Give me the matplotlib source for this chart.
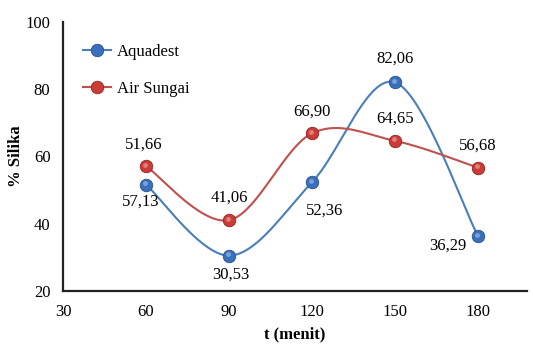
import numpy as np
import matplotlib
matplotlib.use("Agg")
import matplotlib.pyplot as plt

plt.rcParams['font.family'] = ['Liberation Serif', 'DejaVu Serif']

# waktu pengambilan sampel (menit) dan kadar silika (%)
waktu = [60, 90, 120, 150, 180]
aquadest = [51.66, 30.53, 52.36, 82.06, 36.29]
air_sungai = [57.13, 41.06, 66.90, 64.65, 56.68]

# label nilai seperti tertera di grafik
label_aquadest = ['57,13', '30,53', '52,36', '82,06', '36,29']
label_sungai = ['51,66', '41,06', '66,90', '64,65', '56,68']

# geser label (piksel)
geser_aquadest = [(-5, -17), (2, -19), (13, -28), (0, 24), (-30, -9)]
geser_sungai = [(-2, 22), (0, 23), (0, 22), (0, 22), (0, 22)]


def kurva_halus(x, y, m=40):
    # bezier kubik ala garis "smooth" Excel
    p = np.column_stack([x, y]).astype(float)
    p = np.vstack([p[0], p, p[-1]])
    xs, ys = [], []
    t = np.linspace(0, 1, m)
    for i in range(1, len(p) - 2):
        p0, p3 = p[i], p[i + 1]
        c1 = p0 + (p[i + 1] - p[i - 1]) / 6
        c2 = p3 - (p[i + 2] - p[i]) / 6
        b = ((1 - t) ** 3)[:, None] * p0 + (3 * (1 - t) ** 2 * t)[:, None] * c1 \
            + (3 * (1 - t) * t ** 2)[:, None] * c2 + (t ** 3)[:, None] * p3
        xs.extend(b[:, 0])
        ys.extend(b[:, 1])
    return xs, ys


fig = plt.figure(figsize=(5.33, 3.47), dpi=100)
ax = fig.add_axes([63 / 533, (347 - 291) / 347, (527 - 63) / 533, (291 - 22) / 347])

seri = [
    (aquadest, 'Aquadest', '#4a7ebb', '#3a6fbd', '#2a528c', label_aquadest, geser_aquadest),
    (air_sungai, 'Air Sungai', '#c0504d', '#cc3b36', '#8c2522', label_sungai, geser_sungai),
]

kilap = ax.transData + matplotlib.transforms.ScaledTranslation(-0.012, 0.015, fig.dpi_scale_trans)
for y, nama, garis, isi, tepi, lbl, geser in seri:
    xs, ys = kurva_halus(waktu, y)
    ax.plot(xs, ys, color=garis, lw=1.5, zorder=2)
    ax.plot(waktu, y, 'o', ms=9, mfc=isi, mec=tepi, mew=0.6, zorder=3)
    # kilap kecil di bagian atas penanda
    ax.plot(waktu, y, 'o', ms=3.5, mfc='white', mec='none', alpha=0.35, zorder=4, transform=kilap)
    ax.plot([], [], '-o', color=garis, lw=1.5, ms=9, mfc=isi, mec=tepi, mew=0.6, label=nama)
    for xi, yi, s, (dx, dy) in zip(waktu, y, lbl, geser):
        ax.annotate(s, (xi, yi), xytext=(dx, dy), textcoords='offset pixels',
                    ha='center', va='center', fontsize=12)

ax.set_xlim(30, 197.7)
ax.set_ylim(20, 100)
ax.set_xticks([30, 60, 90, 120, 150, 180])
ax.set_yticks([20, 40, 60, 80, 100])
ax.tick_params(length=0, labelsize=12, pad=9)
for s in ['top', 'right']:
    ax.spines[s].set_visible(False)
for s in ['left', 'bottom']:
    ax.spines[s].set_linewidth(1.6)
    ax.spines[s].set_color('#222222')

ax.set_xlabel('t (menit)', fontsize=12, fontweight='bold')
ax.set_ylabel('% Silika', fontsize=12, fontweight='bold')
ax.xaxis.set_label_coords(0.5, -35 / 269)
ax.yaxis.set_label_coords(-39 / 464, 0.5)

ax.legend(loc='upper left', bbox_to_anchor=(0.01, 0.975), frameon=False, fontsize=12,
          handlelength=1.7, labelspacing=1.25, handletextpad=0.35)

fig.savefig('out.png', dpi=100)
